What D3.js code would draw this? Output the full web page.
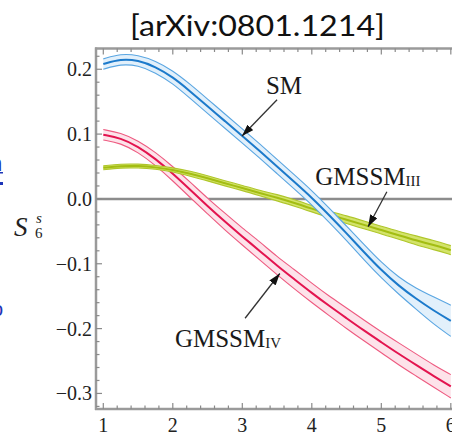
<!DOCTYPE html>
<html><head><meta charset="utf-8">
<script src="https://cdn.jsdelivr.net/npm/d3@7"></script>
<style>body{margin:0;background:#fff}svg{display:block}</style>
</head><body>
<svg id="c" width="452" height="432"></svg>
<script>
// ---- data ----
const xs = [1,1.25,1.5,1.75,2,2.25,2.5,2.75,3,3.25,3.5,3.75,4,4.25,4.5,4.75,5,5.25,5.5,5.75,6];
const smMid = [0.208,0.216,0.214,0.204,0.188,0.166,0.143,0.120,0.097,0.074,0.050,0.026,0.002,-0.025,-0.053,-0.082,-0.110,-0.134,-0.154,-0.172,-0.188];
const smHalf = [0.008,0.008,0.008,0.009,0.010,0.011,0.011,0.011,0.011,0.011,0.011,0.011,0.011,0.011,0.011,0.012,0.012,0.013,0.016,0.021,0.024];
const ivMid = [0.099,0.094,0.081,0.062,0.039,0.014,-0.011,-0.035,-0.058,-0.080,-0.103,-0.124,-0.145,-0.165,-0.184,-0.203,-0.221,-0.239,-0.256,-0.273,-0.289];
const ivHalf = [0.008,0.008,0.009,0.010,0.011,0.012,0.012,0.013,0.013,0.014,0.014,0.015,0.015,0.015,0.016,0.016,0.016,0.017,0.017,0.017,0.018];
const iiiMid = [0.048,0.051,0.051,0.049,0.045,0.039,0.032,0.024,0.017,0.009,0.002,-0.006,-0.015,-0.024,-0.032,-0.040,-0.048,-0.056,-0.064,-0.071,-0.079];
const iiiHalf = [0.003,0.003,0.003,0.003,0.003,0.004,0.004,0.004,0.004,0.004,0.005,0.005,0.005,0.005,0.006,0.006,0.006,0.006,0.007,0.007,0.007];
const xTicks = [1,2,3,4,5,6];
const yTicks = [-0.3,-0.2,-0.1,0.0,0.1,0.2];
const yTickLabels = ["\u22120.3","\u22120.2","\u22120.1","0.0","0.1","0.2"];
const title = "[arXiv:0801.1214]";
// annotations in data coords: label pos, arrow tail, arrow tip
const notes = [
  {main:"SM", sub:"", lx:3.34, ly:0.162, tx:3.50, ty:0.153, hx:2.996, hy:0.097},
  {main:"GMSSM", sub:"III", lx:4.05, ly:0.022, tx:5.08, ty:0.011, hx:4.81, hy:-0.043},
  {main:"GMSSM", sub:"IV", lx:2.03, ly:-0.228, tx:3.04, ty:-0.184, hx:3.54, hy:-0.115}
];

const svg = d3.select("#c");
const x = d3.scaleLinear().domain([0.895, 6.017]).range([96, 452]);
const y = d3.scaleLinear().domain([-0.324, 0.232]).range([409, 48.5]);
const axisCol = "#9a9a9a";

// defs
svg.append("defs").append("marker").attr("id","ah").attr("viewBox","0 0 12 8")
  .attr("refX",12).attr("refY",4).attr("markerWidth",12).attr("markerHeight",8)
  .attr("markerUnits","userSpaceOnUse").attr("orient","auto")
  .append("path").attr("d","M0,0 L12,4 L0,8 Z").attr("fill","#111");

// title (fitted to the reference width)
const tt = svg.append("text").attr("x",0).attr("y",0).attr("text-anchor","middle")
  .attr("font-family","Lato, 'Open Sans', sans-serif").attr("font-size",28).attr("fill","#111")
  .text(title);
const tw = tt.node().getComputedTextLength();
tt.attr("transform",`translate(257.5,36) scale(${255/tw},1)`);

// left-edge blue fragments (cropped hyperlink text)
svg.append("text").attr("x",-10).attr("y",171).attr("font-family","'Liberation Sans',sans-serif")
  .attr("font-size",22).attr("fill","#1d35b8").text("n");
svg.append("rect").attr("x",0).attr("y",172).attr("width",3).attr("height",1.5).attr("fill","#1d35b8");
svg.append("rect").attr("x",0).attr("y",182).attr("width",3).attr("height",3).attr("fill","#1d35b8");
svg.append("text").attr("x",-8).attr("y",316).attr("font-family","'Liberation Sans',sans-serif")
  .attr("font-size",20).attr("fill","#1d35b8").text("o");

// zero line
svg.append("line").attr("x1",96).attr("x2",452).attr("y1",y(0)).attr("y2",y(0))
  .attr("stroke","#8c8c8c").attr("stroke-width",2.5);

// bands
function series(mid, half, fill, edge, center, cw){
  const g = svg.append("g");
  const pts = xs.map((v,i)=>({x:v, m:mid[i], lo:mid[i]-half[i], hi:mid[i]+half[i]}));
  const cv = d3.curveBasis;
  g.append("path").datum(pts).attr("d", d3.area().curve(cv).x(d=>x(d.x)).y0(d=>y(d.lo)).y1(d=>y(d.hi)))
    .attr("fill", fill);
  ["lo","hi"].forEach(k=>{
    g.append("path").datum(pts).attr("d", d3.line().curve(cv).x(d=>x(d.x)).y(d=>y(d[k])))
      .attr("fill","none").attr("stroke",edge).attr("stroke-width",1.1);
  });
  g.append("path").datum(pts).attr("d", d3.line().curve(cv).x(d=>x(d.x)).y(d=>y(d.m)))
    .attr("fill","none").attr("stroke",center).attr("stroke-width",cw);
}
series(ivMid, ivHalf, "#fde3ea", "#ee5a80", "#e3144f", 2);
series(iiiMid, iiiHalf, "#d3e36a", "#afc62a", "#a3bd12", 2);
series(smMid, smHalf, "#e2f0fb", "#5aa6e2", "#1c7acb", 2);

// frame
const fr = svg.append("g").attr("stroke",axisCol).attr("fill","none");
fr.append("line").attr("x1",96).attr("x2",96).attr("y1",47.5).attr("y2",410).attr("stroke-width",2.5);
fr.append("line").attr("x1",95).attr("x2",452).attr("y1",409).attr("y2",409).attr("stroke-width",2.5);
fr.append("line").attr("x1",95).attr("x2",452).attr("y1",48.5).attr("y2",48.5).attr("stroke-width",2.5);

// ticks
const tg = svg.append("g").attr("stroke","#8a8a8a").attr("stroke-width",1.2);
const xMinor = d3.range(0.8, 6.01, 0.2).filter(v=>x(v)>97 && x(v)<=452);
xMinor.forEach(v=>{
  const major = Math.abs(v-Math.round(v))<1e-6;
  const L = major?6:3.5;
  tg.append("line").attr("x1",x(v)).attr("x2",x(v)).attr("y1",409).attr("y2",409-L);
  tg.append("line").attr("x1",x(v)).attr("x2",x(v)).attr("y1",48.5).attr("y2",48.5+L);
});
const yMinor = d3.range(-0.32, 0.2301, 0.02).filter(v=>y(v)<408 && y(v)>49.5);
yMinor.forEach(v=>{
  const major = Math.abs(v*10-Math.round(v*10))<1e-6;
  const L = major?6:3.5;
  tg.append("line").attr("x1",96).attr("x2",96+L).attr("y1",y(v)).attr("y2",y(v));
});

// tick labels
const tf = "'Liberation Serif', 'Times New Roman', serif";
yTicks.forEach((v,i)=>{
  svg.append("text").attr("x",92).attr("y",y(v)+7).attr("text-anchor","end")
    .attr("font-family",tf).attr("font-size",20).attr("fill","#222").text(yTickLabels[i]);
});
xTicks.forEach(v=>{
  svg.append("text").attr("x",x(v)).attr("y",432).attr("text-anchor","middle")
    .attr("font-family",tf).attr("font-size",20).attr("fill","#222").text(String(v));
});

// y label S_6^s
const yl = svg.append("g").attr("font-family",tf).attr("fill","#222");
yl.append("text").attr("x",14).attr("y",236).attr("font-size",27).attr("font-style","italic").text("S");
yl.append("text").attr("x",36).attr("y",223).attr("font-size",15).attr("font-style","italic").text("s");
yl.append("text").attr("x",35).attr("y",238).attr("font-size",15).text("6");

// annotations
notes.forEach(n=>{
  svg.append("line").attr("x1",x(n.tx)).attr("y1",y(n.ty)).attr("x2",x(n.hx)).attr("y2",y(n.hy))
    .attr("stroke","#333").attr("stroke-width",1.3).attr("marker-end","url(#ah)");
  const t = svg.append("text").attr("x",x(n.lx)).attr("y",y(n.ly)).attr("font-family",tf)
    .attr("font-size",25).attr("fill","#1a1a1a").text(n.main);
  if(n.sub) t.append("tspan").attr("font-size",15).attr("dy",1).text(n.sub);
});
</script>
</body></html>
